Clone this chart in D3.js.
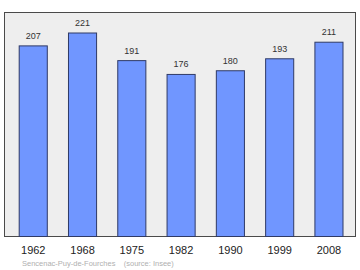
<!DOCTYPE html>
<html>
<head>
<meta charset="utf-8">
<script src="https://cdn.jsdelivr.net/npm/d3@7"></script>
<style>
  body { margin: 0; background: #fff; }
  text { font-family: "Liberation Sans", Arial, sans-serif; }
</style>
</head>
<body>
<div id="chart"></div>
<script>
  // data
  var years = ["1962", "1968", "1975", "1982", "1990", "1999", "2008"];
  var population = [207, 221, 191, 176, 180, 193, 211];
  var footer = "Sencenac-Puy-de-Fourches    (source: Insee)";

  var wi = 360, he = 270;
  var frame = {left: 4.5, top: 12.5, right: 355.5, bottom: 236.5};

  var svg = d3.select("#chart").append("svg")
      .attr("width", wi)
      .attr("height", he);

  // plot background
  svg.append("rect")
      .attr("x", frame.left)
      .attr("y", frame.top)
      .attr("width", frame.right - frame.left)
      .attr("height", frame.bottom - frame.top)
      .attr("fill", "#eeeeee")
      .attr("stroke", "#4a4a4a")
      .attr("stroke-width", 1);

  var x = d3.scaleBand()
      .domain(years)
      .range([8.6, 353.6])
      .paddingInner(0.43)
      .paddingOuter(0.215);

  var y = d3.scaleLinear()
      .domain([0, 221])
      .range([frame.bottom, 33]);

  var data = years.map(function(d, i) { return {year: d, value: population[i]}; });

  svg.selectAll("rect.bar")
      .data(data)
      .enter()
      .append("rect")
      .attr("class", "bar")
      .attr("x", function(d) { return x(d.year); })
      .attr("y", function(d) { return y(d.value); })
      .attr("width", x.bandwidth())
      .attr("height", function(d) { return frame.bottom - y(d.value); })
      .attr("fill", "#7096ff")
      .attr("stroke", "#2f3a66")
      .attr("stroke-width", 1);

  // value labels
  svg.selectAll("text.val")
      .data(data)
      .enter()
      .append("text")
      .attr("class", "val")
      .attr("x", function(d) { return x(d.year) + x.bandwidth() / 2; })
      .attr("y", function(d) { return y(d.value) - 7; })
      .attr("text-anchor", "middle")
      .attr("font-size", "9px")
      .attr("fill", "#333")
      .text(function(d) { return d.value; });

  // year axis
  var xAxis = d3.axisBottom(x).tickSize(0).tickPadding(10);
  var gx = svg.append("g")
      .attr("transform", "translate(0," + frame.bottom + ")")
      .call(xAxis);
  gx.select(".domain").remove();
  gx.selectAll("text")
      .attr("font-size", "11px")
      .attr("font-family", "'Liberation Sans', Arial, sans-serif")
      .attr("fill", "#222");

  svg.append("text")
      .attr("x", 22)
      .attr("y", 265.5)
      .attr("font-size", "7.5px")
      .attr("fill", "#b0b0b0")
      .attr("xml:space", "preserve")
      .style("white-space", "pre")
      .text(footer);
</script>
</body>
</html>
